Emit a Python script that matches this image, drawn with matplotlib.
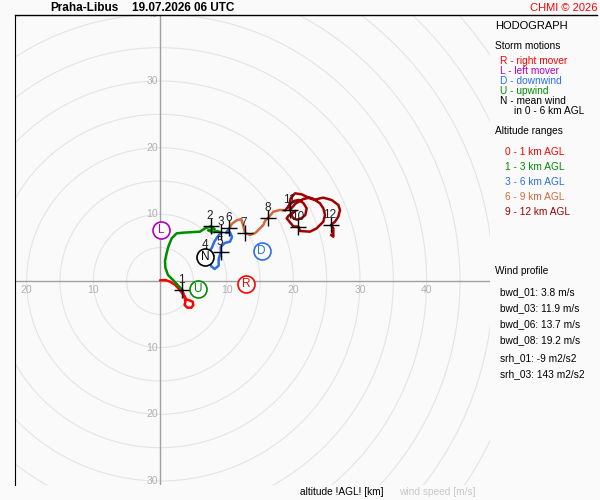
import matplotlib
matplotlib.use('Agg')
import matplotlib.pyplot as plt
import numpy as np
from matplotlib.patches import Circle
from matplotlib.lines import Line2D

plt.rcParams['font.family'] = ['Liberation Sans', 'DejaVu Sans']

# hodograph segments (u, v in m/s)
u_0_1 = [0.0, 0.8, 1.5, 2.3, 3.0, 3.6, 4.0, 4.4, 4.9, 5.0, 4.7, 4.1, 3.7, 3.8, 3.7, 3.35]
v_0_1 = [0.1, 0.15, -0.1, -0.6, -1.4, -2.2, -2.8, -2.9, -3.1, -3.6, -4.0, -4.0, -3.6, -3.1, -2.5, -1.35]
u_1_3 = [3.35, 2.0, 1.2, 0.8, 0.75, 1.0, 1.25, 1.75, 2.5, 3.5, 6.0, 6.75, 7.65, 8.2, 7.2, 7.9, 8.5, 9.2]
v_1_3 = [-1.35, 0.1, 0.9, 2.0, 3.0, 4.2, 5.15, 6.4, 7.15, 7.25, 7.4, 7.9, 8.2, 7.8, 7.6, 7.3, 7.5, 7.3]
u_3_6 = [9.2, 8.6, 8.1, 7.8, 7.2, 6.9, 7.4, 7.7, 8.2, 8.8, 8.8, 9.15, 9.1, 9.7, 10.5, 10.8, 10.5, 9.9, 10.4]
v_3_6 = [7.3, 6.6, 5.8, 5.0, 4.3, 3.9, 3.0, 2.2, 1.8, 2.3, 3.3, 4.4, 5.1, 5.7, 5.9, 6.6, 7.3, 7.2, 7.9]
u_6_9 = [10.4, 10.8, 11.5, 12.2, 12.4, 12.75, 13.5, 14.3, 15.0, 15.5, 15.8, 16.25, 17.0, 18.0, 18.8]
v_6_9 = [7.9, 8.6, 9.1, 9.3, 8.6, 7.2, 6.9, 7.2, 7.9, 8.4, 9.1, 9.5, 10.4, 10.65, 10.6]
u_9_12 = [18.8, 19.4, 20.1, 20.8, 21.5, 22.0, 21.8, 21.2, 20.5, 19.9, 19.7, 20.3, 19.3, 19.0, 20.0, 20.75,
          21.0, 22.5, 23.5, 24.5, 24.75, 24.5, 24.0, 23.25, 22.5, 21.25, 20.25, 19.6, 19.4, 19.5,
          20.3, 21.5, 22.5, 23.3, 24.0, 24.5, 25.75, 26.75, 27.0, 26.75, 26.25, 25.65, 26.0, 26.0, 25.65]
v_9_12 = [10.6, 11.4, 12.0, 12.15, 11.7, 10.9, 9.9, 9.4, 9.2, 9.5, 10.1, 10.5, 9.8, 9.4, 8.2, 8.15,
          7.5, 7.4, 7.9, 8.9, 9.9, 10.9, 11.65, 12.15, 12.4, 13.0, 13.15, 12.4, 11.4, 10.65,
          11.6, 12.3, 12.5, 12.2, 12.4, 12.5, 12.15, 11.4, 10.65, 9.65, 8.9, 8.4, 7.9, 6.65, 6.9]

segments = [(u_0_1, v_0_1), (u_1_3, v_1_3), (u_3_6, v_3_6), (u_6_9, v_6_9), (u_9_12, v_9_12)]
seg_colors = ['#ff0000', '#008c00', '#2a6ee8', '#d2693c', '#a00000']
seg_names = ['0 - 1 km AGL', '1 - 3 km AGL', '3 - 6 km AGL', '6 - 9 km AGL', '9 - 12 km AGL']

# km markers
km_labels = ['1', '2', '3', '4', '5', '6', '7', '8', '10', '11', '12']
km_u = [3.35, 7.65, 9.2, 6.9, 9.15, 10.4, 12.75, 16.25, 20.75, 19.5, 25.65]
km_v = [-1.35, 8.2, 7.3, 3.9, 4.4, 7.9, 7.2, 9.5, 8.15, 10.65, 8.4]

# storm motions
storm_letters = ['R', 'L', 'D', 'U', 'N']
storm_u = [12.9, 0.2, 15.25, 5.65, 6.75]
storm_v = [-0.5, 7.6, 4.5, -1.2, 3.65]
storm_colors = ['#ff0000', '#b000c0', '#2a6ee8', '#008c00', '#000000']
storm_names = ['R - right mover', 'L - left mover', 'D - downwind', 'U - upwind', 'N - mean wind']

wind_profile = ['bwd_01: 3.8 m/s', 'bwd_03: 11.9 m/s', 'bwd_06: 13.7 m/s', 'bwd_08: 19.2 m/s',
                'srh_01: -9 m2/s2', 'srh_03: 143 m2/s2']

bg = '#fafafa'
fig = plt.figure(figsize=(6, 5), dpi=100, facecolor=bg)
ax = fig.add_axes([15/600, 1-485/500, 475/600, 470/500])
ax.set_facecolor(bg)
ax.set_xlim(-21.75, 49.5)
ax.set_ylim(-30.6, 39.9)
ax.set_xticks([])
ax.set_yticks([])
for s in ['right', 'bottom', 'top']:
    ax.spines[s].set_visible(False)
ax.spines['left'].set_color('black')
fig.add_artist(Line2D([15/600, 597/600], [1-15/500, 1-15/500], transform=fig.transFigure,
                      color='black', lw=1))

# rings
for r in np.arange(5, 70, 5):
    ax.add_patch(Circle((0, 0), r, fill=False, ec='#e4e4e4', lw=0.8, zorder=1))
ax.axhline(0, color='#a0a0a0', lw=1, zorder=2)
ax.axvline(0, color='#a0a0a0', lw=1, zorder=2)

for r in [-20, -10, 10, 20, 30, 40]:
    ax.text(r, -1.35, str(abs(r)), ha='center', va='center', fontsize=7.5, color='#b0b0b0',
            clip_on=True, zorder=2)
for r in [-30, -20, -10, 10, 20, 30, 40]:
    ax.text(-0.3, r, str(abs(r)), ha='right', va='center', fontsize=7.5, color='#b0b0b0',
            clip_on=True, zorder=2)

for (u, v), c in zip(segments, seg_colors):
    ax.plot(u, v, color=c, lw=1.8, solid_capstyle='round', solid_joinstyle='round', zorder=3)

ax.plot(km_u, km_v, ls='none', marker='+', ms=11, mew=1, color='black', zorder=4)
for lab, u, v in zip(km_labels, km_u, km_v):
    ax.annotate(lab, (u, v), xytext=(-1, 10), textcoords='offset pixels', ha='center',
                va='center', fontsize=8.5, color='#202020', zorder=4)

for let, u, v, c in zip(storm_letters, storm_u, storm_v, storm_colors):
    ax.scatter([u], [v], s=150, facecolor='white', edgecolor=c, lw=1.2, zorder=5)
    ax.text(u, v, let, ha='center', va='center', fontsize=8.5, color=c, zorder=6)

# titles
fig.text(50/600, 1-8/500, 'Praha-Libus', weight='bold', fontsize=8.5, va='center')
fig.text(132/600, 1-8/500, '19.07.2026 06 UTC', weight='bold', fontsize=8.5, va='center')
fig.text(597/600, 1-8/500, 'CHMI \u00a9 2026', color='red', fontsize=8, ha='right', va='center')

# right panel
def ftxt(x, y, s, **kw):
    fig.text(x/600, 1-y/500, s, va='center', **kw)

ftxt(495, 26, 'HODOGRAPH', fontsize=8)
ftxt(495, 46, 'Storm motions', fontsize=7.3)
for i, (name, c) in enumerate(zip(storm_names, storm_colors)):
    ftxt(500, 61 + 10*i, name, fontsize=7.3, color=c)
ftxt(514, 111, 'in 0 - 6 km AGL', fontsize=7.3)
ftxt(495, 131, 'Altitude ranges', fontsize=7.3)
for i, (name, c) in enumerate(zip(seg_names, seg_colors)):
    ftxt(505, 152 + 15*i, name, fontsize=7.3, color=c)
ftxt(495, 271, 'Wind profile', fontsize=7.3)
wp_y = [292, 308, 324, 340, 358, 374]
for s, y in zip(wind_profile, wp_y):
    ftxt(500, y, s, fontsize=7.3)

ftxt(300, 492, 'altitude !AGL! [km]', fontsize=7.3)
ftxt(399, 492, 'wind speed [m/s]', fontsize=7.3, color='#c8c8c8')

fig.savefig('out.png', dpi=100, facecolor=bg)
